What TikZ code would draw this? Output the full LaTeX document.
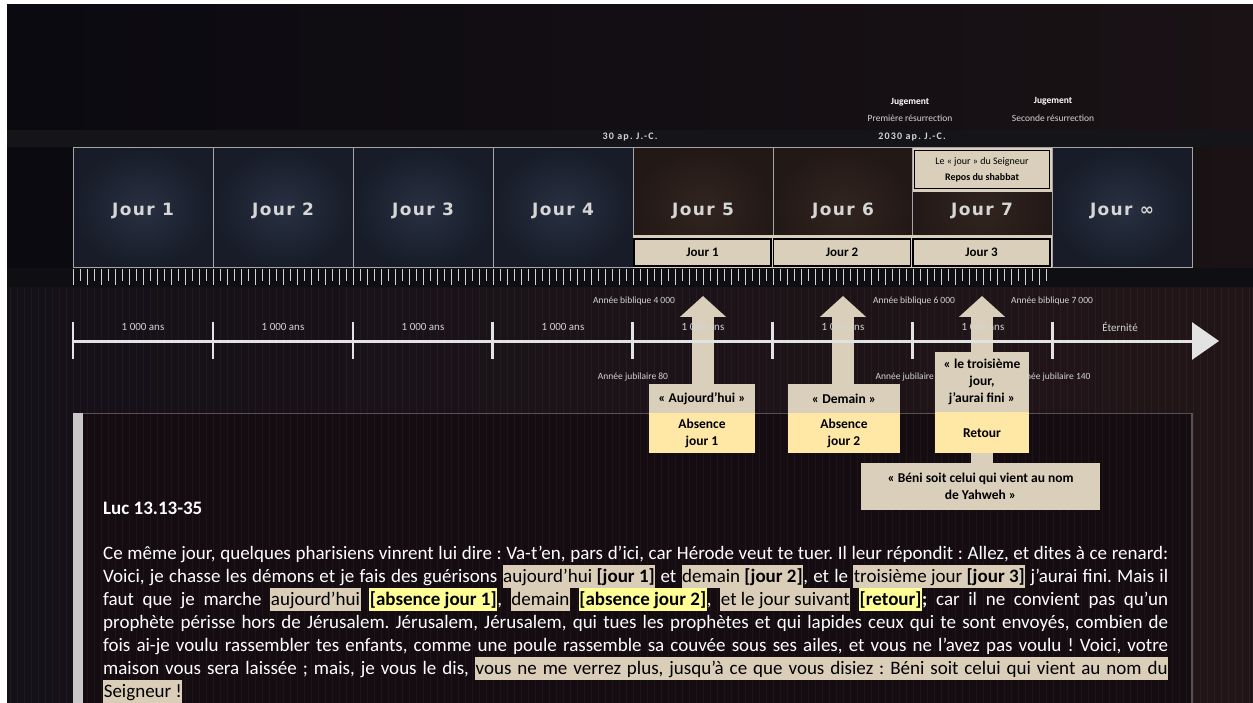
\documentclass[tikz,border=0pt]{standalone}
\usepackage{fontspec}
\setmainfont{Carlito}
\newfontfamily\dayfont[LetterSpace=8]{DejaVu Sans}
\newfontfamily\datefont[LetterSpace=12]{Carlito}
\usetikzlibrary{arrows.meta,positioning}

\definecolor{bgTopL}{RGB}{11,10,17}
\definecolor{bgTopR}{RGB}{26,18,21}
\definecolor{stripc}{RGB}{21,20,25}
\definecolor{tickband}{RGB}{15,14,19}
\definecolor{bgLowL}{RGB}{21,17,24}
\definecolor{bgLowR}{RGB}{34,21,24}
\definecolor{panelin}{RGB}{21,12,17}
\definecolor{blueIn}{RGB}{40,48,66}
\definecolor{blueOut}{RGB}{23,28,40}
\definecolor{brownIn}{RGB}{50,37,32}
\definecolor{brownOut}{RGB}{34,24,21}
\definecolor{daybord}{RGB}{165,165,168}
\definecolor{daytext}{RGB}{214,214,214}
\definecolor{beigeA}{RGB}{218,207,187}
\definecolor{yellowA}{RGB}{255,232,166}
\definecolor{hlbeige}{RGB}{219,206,185}
\definecolor{hlyellow}{RGB}{255,255,150}
\definecolor{tinygrey}{RGB}{212,212,212}
\definecolor{axisc}{RGB}{226,226,226}
\definecolor{panelc}{RGB}{88,80,85}
\definecolor{barc}{RGB}{200,200,200}

\pgfdeclarelayer{bg}
\pgfdeclarelayer{arr}
\pgfsetlayers{bg,arr,main}

\frenchspacing
\newcommand\hlbg[1]{{\setlength\fboxsep{0.6pt}\colorbox{hlbeige}{\rule[-5.5pt]{0pt}{21.5pt}\color{black}#1}}}
\newcommand\hlbgw[2]{{\setlength\fboxsep{0.6pt}\colorbox{hlbeige}{\hbox to #1{\rule[-5.5pt]{0pt}{21.5pt}\color{black}#2}}}}
\newcommand\hlyl[1]{{\setlength\fboxsep{0.6pt}\colorbox{hlyellow}{\rule[-5.5pt]{0pt}{21.5pt}\color{black}\bfseries #1}}}

\begin{document}
\begin{tikzpicture}[x=1pt,y=-1pt,
  day/.style={draw=daybord,line width=1pt,minimum width=140pt,minimum height=120pt,inner sep=0pt,text height=14.4pt,text depth=0pt,text=daytext,font=\dayfont\bfseries\fontsize{17}{17}\selectfont},
  blueday/.style={day,inner color=blueIn,outer color=blueOut},
  brownday/.style={day,inner color=brownIn,outer color=brownOut},
  subbox/.style={draw=black,line width=1.3pt,fill=beigeA,minimum width=137pt,minimum height=27pt,inner sep=0pt,text=black,font=\bfseries\fontsize{13}{15}\selectfont},
  smalltxt/.style={text=tinygrey,inner sep=0pt,font=\fontsize{9.5}{11}\selectfont},
  datetxt/.style={text=tinygrey,inner sep=0pt,font=\datefont\bfseries\fontsize{10}{11}\selectfont},
  tickmark/.style={draw=tinygrey,line width=1pt},
  axisline/.style={draw=axisc,line width=3pt},
  axistick/.style={draw=axisc,line width=2.5pt},
  uparrow/.style={draw=beigeA,line width=22pt,-{Triangle[width=45pt,length=21pt]}},
  callq/.style={fill=beigeA,minimum width=106pt,minimum height=29pt,inner sep=0pt,align=center,text=black,font=\bfseries\fontsize{13.5}{17}\selectfont},
  cally/.style={callq,fill=yellowA,minimum height=40pt},
  txtline/.style={anchor=base west,inner sep=0pt,text=white,font=\fontsize{19}{22}\selectfont}]
\useasboundingbox (0,0) rectangle (1253,703);
%---background------------------------------------
\begin{pgfonlayer}{bg}
\fill[white] (0,0) rectangle (1253,703);
\shade[left color=bgTopL,right color=bgTopR] (7,5) rectangle (1253,130);
\fill[stripc] (7,130) rectangle (1253,148);
\shade[left color=bgTopL,right color=bgTopR] (7,148) rectangle (1253,268);
\fill[tickband] (7,268) rectangle (1253,288);
\shade[left color=bgLowL,right color=bgLowR] (7,288) rectangle (1253,703);
\fill[panelin] (73,413) rectangle (1192,703);
\foreach \i in {0,...,177} \draw[white,opacity=0.035,line width=0.8pt] (10+7*\i,288) -- (10+7*\i,703);
\end{pgfonlayer}
%---days------------------------------------------
\node[blueday] (d1) at (143,208) {Jour 1};
\node[blueday] (d2) at (283,208) {Jour 2};
\node[blueday] (d3) at (423,208) {Jour 3};
\node[blueday] (d4) at (563,208) {Jour 4};
\node[brownday] (d5) at (703,208) {Jour 5};
\node[brownday] (d6) at (843,208) {Jour 6};
\node[brownday] (d7) at (982,208) {Jour 7};
\node[blueday] (dinf) at (1122,208) {Jour ∞};
\fill[beigeA] (633,235.5) rectangle (1052,268);
\fill[beigeA] (913,148) rectangle (1052,192);
\node[subbox] (j1) at (702.5,252.5) {Jour 1};
\node[subbox] (j2) at (842,252.5) {Jour 2};
\node[subbox] (j3) at (981.5,252.5) {Jour 3};
\node[subbox,minimum width=135pt,minimum height=38pt,align=center,font=\fontsize{10}{16}\selectfont] (lord) at (982,169.5) {Le «~jour~» du Seigneur\\\textbf{Repos du shabbat}};
%---ruler-----------------------------------------
\foreach \i in {0,...,139} {\ifodd\i \def\tl{281}\else \def\tl{285}\fi
  \draw[tickmark] (73.5+7*\i,269) -- (73.5+7*\i,\tl);}
%---dates-----------------------------------------
\node[datetxt] (jc30) at (630,137) {30 ap. J.-C.};
\node[datetxt] (jc2030) at (912,137) {2030 ap. J.-C.};
\node[smalltxt,font=\bfseries\fontsize{9.5}{11}\selectfont,text=white] (jug1) at (910,102) {Jugement};
\node[smalltxt] (res1) at (910,118) {Première résurrection};
\node[smalltxt,font=\bfseries\fontsize{9.5}{11}\selectfont,text=white] (jug2) at (1053,101) {Jugement};
\node[smalltxt] (res2) at (1053,118) {Seconde résurrection};
%---time axis-------------------------------------
\coordinate (ax0) at (73,341);
\coordinate (ax1) at (1219,341);
\draw[axisline,-{Triangle[width=37pt,length=27pt]}] (ax0) -- (ax1);
\foreach \i in {0,...,7} \draw[axistick] (73+139.9*\i,322) -- (73+139.9*\i,359);
\foreach \i in {0,...,6} \node[smalltxt,font=\fontsize{11}{12}\selectfont] (m\i) at (143+140*\i,327) {1 000 ans};
\node[smalltxt,font=\fontsize{11}{12}\selectfont] (etern) at (1120,327) {Éternité};
\node[smalltxt] (ab4) at (634,301) {Année biblique 4 000};
\node[smalltxt] (ab6) at (914,301) {Année biblique 6 000};
\node[smalltxt] (ab7) at (1052,301) {Année biblique 7 000};
\node[smalltxt] (aj80) at (633,377) {Année jubilaire 80};
\node[smalltxt] (aj120) at (913,377) {Année jubilaire 120};
\node[smalltxt] (aj140) at (1053,377) {Année jubilaire 140};
%---text panel------------------------------------
\draw[panelc,line width=1.5pt] (73,413.5) -- (1192,413.5) -- (1192,710);
\fill[barc] (73,413) rectangle (83,703);
%---callouts--------------------------------------
\node[callq] (aujq) at (702,398.5) {«~Aujourd’hui~»};
\node[cally,below=0pt of aujq] (auja) {Absence\\jour 1};
\node[callq,minimum width=112pt] (demq) at (844,398.5) {«~Demain~»};
\node[cally,minimum width=112pt,below=0pt of demq] (dema) {Absence\\jour 2};
\node[callq,minimum width=94pt,minimum height=60pt] (trq) at (982,382) {«~le troisième\\jour,\\j’aurai fini~»};
\node[cally,minimum width=94pt,minimum height=41pt,below=0pt of trq] (tra) {Retour};
\node[callq,minimum width=239pt,minimum height=47pt] (beni) at (980.5,486.5) {«~Béni soit celui qui vient au nom\\de Yahweh~»};
\begin{pgfonlayer}{arr}
\coordinate (tip1) at (703,296);
\coordinate (tip2) at (843,296);
\coordinate (tip3) at (982,296);
\draw[uparrow] (tip1 |- aujq.north) -- (tip1);
\draw[uparrow] (tip2 |- demq.north) -- (tip2);
\draw[uparrow] (tip3 |- beni.north) -- (tip3);
\end{pgfonlayer}
%---Luc 13----------------------------------------
\node[txtline,font=\bfseries\fontsize{19}{22}\selectfont] (luc) at (103,514) {Luc 13.13-35};
\node[txtline] (l1) at (103,559) {\hbox to 1065pt{Ce même jour, quelques pharisiens vinrent lui dire : Va-t’en, pars d’ici, car Hérode veut te tuer. Il leur répondit : Allez, et dites à ce renard:}};
\node[txtline] (l2) at (103,582) {\hbox to 1065pt{Voici, je chasse les démons et je fais des guérisons \hlbg{aujourd’hui \textbf{[jour 1]}} et \hlbg{demain \textbf{[jour 2]}}, et le \hlbg{troisième jour \textbf{[jour 3]}} j’aurai fini. Mais il}};
\node[txtline] (l3) at (103,605) {\hbox to 1065pt{faut que je marche \hlbg{aujourd’hui} \hlyl{[absence jour 1]}, \hlbg{demain} \hlyl{[absence jour 2]}, \hlbg{et le jour suivant} \hlyl{[retour]}\textbf{;} car il ne convient pas qu’un}};
\node[txtline] (l4) at (103,628) {\hbox to 1065pt{prophète périsse hors de Jérusalem. Jérusalem, Jérusalem, qui tues les prophètes et qui lapides ceux qui te sont envoyés, combien de}};
\node[txtline] (l5) at (103,651) {\hbox to 1065pt{fois ai-je voulu rassembler tes enfants, comme une poule rassemble sa couvée sous ses ailes, et vous ne l’avez pas voulu ! Voici, votre}};
\node[txtline] (l6) at (103,674) {\hbox to 1065pt{maison vous sera laissée ; mais, je vous le dis, \hlbgw{692pt}{vous ne me verrez plus, jusqu’à ce que vous disiez : Béni soit celui qui vient au nom du}}};
\node[txtline] (l7) at (103,697) {\hlbg{Seigneur !}};
\end{tikzpicture}
\end{document}
